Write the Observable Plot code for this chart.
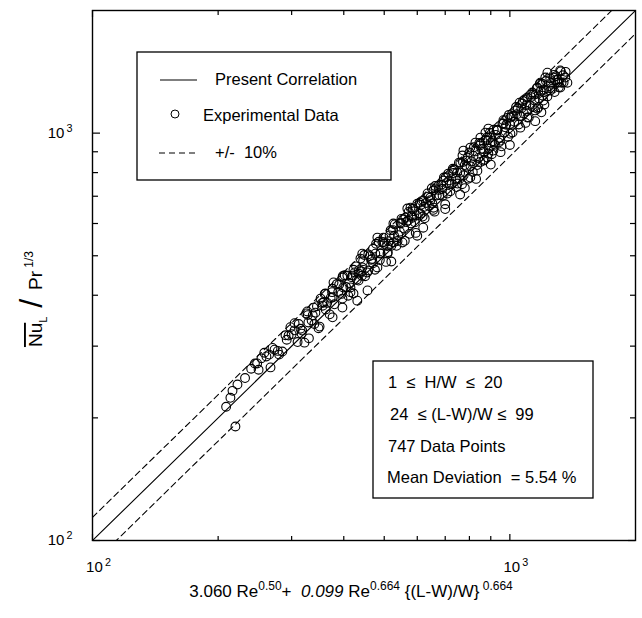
<!DOCTYPE html>
<html><head><meta charset="utf-8">
<script src="https://cdn.jsdelivr.net/npm/d3@7"></script>
<script src="https://cdn.jsdelivr.net/npm/@observablehq/plot@0.6"></script>
<style>
body{margin:0;background:#fff}
svg{font-family:"Liberation Sans",Arial,Helvetica,sans-serif}
</style>
</head><body><div id="chart"></div>
<script>
const expX = [
  209, 214, 216.5, 222.5, 220, 248, 254, 261, 273, 267,
  280, 292, 305, 317, 322, 329, 327, 337, 338.5, 356,
  358, 361.5, 376, 376, 376, 378, 397, 397, 397, 399,
  408, 415, 420, 422, 431, 434, 434, 438.5, 443, 443,
  456, 458, 476, 481.5, 481.5, 489.5, 498, 509, 526, 526,
  547, 553, 562, 568, 578, 584, 600.5, 610.5, 621, 645,
  656, 656, 674, 693, 708.5, 712, 728, 749, 761, 770,
  774, 804, 804, 827, 836, 850, 864, 874, 888, 888,
  850, 898, 913, 883, 933, 949, 965, 1003, 1003, 1031,
  1059.5, 1071, 1101, 1101, 1132, 1164, 1164, 1183, 1203, 1216,
  1230, 1250, 1271, 1300, 1321, 1358, 1373.5,
  300, 310, 335, 345, 350, 365, 380, 385, 405, 410,
  425, 430, 445, 450, 465, 470, 475, 490, 500, 505,
  515, 520, 530, 535, 545, 555, 560, 570, 580, 590,
  595, 605, 615, 625, 630, 640, 650, 660, 668, 685,
  690, 700, 715, 725, 735, 745, 760, 775, 785, 795,
  810, 820, 840, 855, 870, 880, 900, 920, 935, 955,
  970, 985, 1000, 1015, 1040, 1055, 1080, 1090, 1115, 1140,
  1150, 1175, 1195, 1210, 1240, 1265, 1290, 1310, 1340,
  520, 600, 620, 700, 760, 780, 830, 900, 950, 1000, 1150, 1190,
  290, 315, 325, 340, 355, 360, 370, 372, 390, 395,
  402, 415, 418, 428, 440, 448, 455, 462, 470, 485,
  495, 510, 512, 525, 540, 550, 565, 575, 585, 598,
  612, 618, 635, 645, 655, 665, 678, 695, 705, 720,
  732, 742, 755, 768, 780, 792, 805, 815, 828, 845,
  850, 862, 875, 890, 905, 915, 925, 940, 960, 975,
  990, 1010, 1025, 1035, 1050, 1065, 1085, 1100, 1110, 1125,
  1145, 1160, 1170, 1185, 1200, 1220, 1230, 1255, 1275, 1280,
  1300, 1325, 1330, 1345, 1360,
  240, 250, 258, 265, 285, 298, 312, 330, 348,
  232, 245, 270, 278, 295, 305, 318, 328, 342, 352,
  362, 375, 388, 398, 412, 422, 435, 442, 458, 468,
  478, 488, 498, 508, 518, 528, 538, 548, 558, 572,
  582, 592, 608, 622, 638, 652, 662, 675, 688, 702,
  718, 730, 748, 758, 772, 788, 800, 818, 835, 848,
  865, 885, 895, 910, 930, 945, 965, 980, 995, 1020,
  1045, 1060, 1075, 1095, 1120, 1135, 1155, 1180, 1205, 1225,
  1250, 1285, 1305, 1320
];
const expY = [
  213, 224, 233, 241.5, 190.5, 272, 280, 283, 294, 266,
  286, 311, 328, 322, 306, 343, 365, 357, 373, 377,
  384, 404, 395, 353, 415, 430, 442, 392.5, 373, 418,
  447, 418, 447, 404, 388, 452, 434.5, 492, 506, 468,
  411, 460, 506, 468, 554, 506, 554, 506, 539, 600,
  603, 539, 620, 653, 656, 620, 671.5, 634, 683, 695,
  723, 656, 743, 765, 710.5, 795.5, 809, 752, 846.5, 881,
  906, 921.5, 778, 948, 809, 975, 856, 1003, 1026, 891,
  942, 975, 906, 871, 1014, 958.5, 1055, 1092, 997, 1136,
  1031.5, 1182, 1223, 1092, 1258, 1294, 1148.5, 1330, 1202, 1369,
  1407, 1272, 1369, 1330, 1294, 1369, 1330,
  321, 307, 347, 376, 335, 383, 380, 426, 419, 399,
  455, 437, 485, 445.5, 489, 520, 462, 507, 535, 483,
  561, 529, 597, 529, 573, 614, 544, 610, 600, 643,
  569, 636, 681, 618, 674, 662, 732, 641.5, 703, 747,
  702, 669, 765, 750, 814, 737, 799.5, 788, 856, 773,
  852, 923, 869, 915, 860, 974, 947, 936, 1019, 928,
  1004, 1090, 1052, 1004, 1113, 1188, 1118, 1059.5, 1173, 1243,
  1137, 1216, 1323, 1176, 1304, 1286, 1380, 1296, 1387,
  484, 560, 586, 651, 707, 733, 772, 837, 898, 935, 1070, 1125,
  319, 331, 361, 340, 383, 403, 359, 394, 425, 403,
  448, 407, 443, 471, 458, 502, 455, 499, 479, 541,
  540, 510, 543, 578, 562, 616, 605, 566, 652, 628,
  667, 624, 711, 684, 648, 731.5, 705, 778, 754, 720,
  798, 772, 846, 749, 835, 871, 829, 803, 902, 946,
  850, 914, 962.5, 917, 887, 1020, 990, 949, 1056, 1033.5,
  980, 1101, 1066, 1159, 1050, 1150, 1210, 1133, 1093, 1226,
  1202, 1288, 1158, 1268, 1236, 1342, 1230, 1330, 1390, 1261,
  1352, 1418, 1330, 1332, 1414,
  264, 262.5, 289, 286, 291, 334, 340, 313.5, 332,
  250.5, 272, 297, 292, 318.6, 341.6, 327.5, 357.5, 362.5, 392.5,
  369, 407, 407.4, 446, 428.5, 462, 461, 446.4, 504, 491,
  535, 488, 540, 528, 577.6, 559.7, 543.4, 600, 583, 640.6,
  625.7, 604, 675, 659, 698.6, 671.6, 741.4, 725.6, 729, 779,
  750, 817.6, 800, 773, 849, 827, 896, 879, 835, 933,
  899.6, 960, 1002, 955.5, 1018, 973, 1076, 1048.6, 1109, 1101.6,
  1149.5, 1102, 1199, 1171.6, 1243, 1158, 1247, 1321.6, 1277, 1268,
  1362.5, 1349, 1331, 1425.6
];
// Present correlation (y = x) and the +/- band lines
const corrX = [100, 2000];
const corrY = [100, 2000];
const upperY = [114, 2280];
const lowerY = [87.7, 1754];
// Axis ticks
const majorTicks = [100, 1000];
const minorTicks = [200, 300, 400, 500, 600, 700, 800, 900];
const legendLabels = ["Present Correlation", "Experimental Data", "+/-  10%"];
const infoLines = ["1  \u2264  H/W  \u2264  20", "24  \u2264 (L-W)/W \u2264  99", "747 Data Points", "Mean Deviation  = 5.54 %"];

const points = expX.map((x, i) => ({x, y: expY[i]}));
const corr = corrX.map((x, i) => ({x, y: corrY[i], up: upperY[i], lo: lowerY[i]}));
const fmt = d => "10^" + Math.round(Math.log10(d));

const W = 642, H = 618, mT = 10, mL = 92, mR = 7, mB = 78;
const fw = W - mL - mR, fh = H - mT - mB;

const plot = Plot.plot({
  width: W, height: H,
  marginTop: mT, marginLeft: mL, marginRight: mR, marginBottom: mB,
  x: {type: "log", domain: [100, 2000]},
  y: {type: "log", domain: [100, 2000]},
  style: {background: "white", color: "black", fontFamily: '"Liberation Sans",Arial,sans-serif'},
  marks: [
    Plot.line(corr, {x: "x", y: "y", stroke: "black", strokeWidth: 1.1, clip: true}),
    Plot.line(corr, {x: "x", y: "up", stroke: "black", strokeWidth: 1.1, strokeDasharray: "6,4", clip: true}),
    Plot.line(corr, {x: "x", y: "lo", stroke: "black", strokeWidth: 1.1, strokeDasharray: "6,4", clip: true}),
    Plot.dot(points, {x: "x", y: "y", r: 4.4, stroke: "black", strokeWidth: 1.1, fill: "none", clip: true}),
    Plot.frame({stroke: "black", strokeWidth: 1.4}),
    // inward ticks: an axis anchored on the opposite side, shifted across the frame
    Plot.axisX(majorTicks, {anchor: "top", tickSize: 7, dy: fh, fill: "none", label: null, strokeWidth: 1.2}),
    Plot.axisX(minorTicks, {anchor: "top", tickSize: 5, dy: fh, fill: "none", label: null, strokeWidth: 1.2}),
    Plot.axisX(majorTicks, {anchor: "bottom", tickSize: 7, dy: -fh, fill: "none", label: null, strokeWidth: 1.2}),
    Plot.axisX(minorTicks, {anchor: "bottom", tickSize: 5, dy: -fh, fill: "none", label: null, strokeWidth: 1.2}),
    Plot.axisY(majorTicks, {anchor: "right", tickSize: 7, dx: -fw, fill: "none", label: null, strokeWidth: 1.2}),
    Plot.axisY(minorTicks, {anchor: "right", tickSize: 5, dx: -fw, fill: "none", label: null, strokeWidth: 1.2}),
    Plot.axisY(majorTicks, {anchor: "left", tickSize: 7, dx: fw, fill: "none", label: null, strokeWidth: 1.2}),
    Plot.axisY(minorTicks, {anchor: "left", tickSize: 5, dx: fw, fill: "none", label: null, strokeWidth: 1.2}),
    Plot.axisX(majorTicks, {anchor: "bottom", tickSize: 0, tickPadding: 21, dx: 6, tickFormat: fmt, fontSize: 15, label: null}),
    Plot.axisY(majorTicks, {anchor: "left", tickSize: 0, tickPadding: 20, tickFormat: fmt, fontSize: 15, label: null})
  ]
});
document.getElementById("chart").appendChild(plot);

const svg = d3.select(plot);
// superscripts in tick labels
svg.selectAll("text").each(function() {
  const t = d3.select(this);
  if (t.selectAll("tspan").size() > 0) return;
  const m = t.text().match(/^(.*)\^(.*)$/);
  if (!m) return;
  t.text(null);
  t.append("tspan").text(m[1]);
  t.append("tspan").attr("dy", "-0.55em").attr("dx", "0.2em").style("font-size", "72%").text(m[2]);
});

const font = '"Liberation Sans",Arial,sans-serif';
// x-axis title
const xt = svg.append("text").attr("x", 351).attr("y", 597).attr("text-anchor", "middle")
  .attr("font-size", 17).attr("font-family", font).attr("fill", "black").style("white-space", "pre");
xt.append("tspan").text("3.060 Re");
xt.append("tspan").attr("dy", -7).attr("font-size", 12).text("0.50");
xt.append("tspan").attr("dy", 7).text("+  ");
xt.append("tspan").attr("font-style", "italic").text("0.099");
xt.append("tspan").text(" Re");
xt.append("tspan").attr("dy", -7).attr("font-size", 12).text("0.664");
xt.append("tspan").attr("dy", 7).text(" {(L-W)/W}");
xt.append("tspan").attr("dy", -7).attr("font-size", 12).text(" 0.664");

// y-axis title
const yt = svg.append("text").attr("transform", "translate(42,299) rotate(-90)").attr("text-anchor", "middle")
  .attr("font-size", 19).attr("font-family", font).attr("fill", "black").style("white-space", "pre");
yt.append("tspan").style("text-decoration", "overline").text("Nu");
yt.append("tspan").attr("font-size", 11).attr("dy", 5).text("L");
yt.append("tspan").attr("font-size", 32).attr("dy", -5).text(" / ");
yt.append("tspan").text("Pr");
yt.append("tspan").attr("font-size", 12).attr("dy", -9).text(" 1/3");

// legend box
const lg = svg.append("g").attr("font-family", font).attr("font-size", 16.5).attr("fill", "black").attr("text-anchor", "start");
lg.append("rect").attr("x", 137).attr("y", 52).attr("width", 254).attr("height", 128)
  .attr("fill", "white").attr("stroke", "black").attr("stroke-width", 1.3);
lg.append("line").attr("x1", 160).attr("x2", 197).attr("y1", 80).attr("y2", 80).attr("stroke", "black").attr("stroke-width", 1.1);
lg.append("circle").attr("cx", 175).attr("cy", 114).attr("r", 4).attr("fill", "none").attr("stroke", "black");
lg.append("line").attr("x1", 159).attr("x2", 195).attr("y1", 153).attr("y2", 153).attr("stroke", "black").attr("stroke-width", 1.1).attr("stroke-dasharray", "6,4");
const lx = [215, 203, 215], ly = [79, 115, 152];
legendLabels.forEach((s, i) => lg.append("text").attr("x", lx[i]).attr("y", ly[i]).attr("dy", "0.35em").style("white-space", "pre").text(s));

// info box
const ib = svg.append("g").attr("font-family", font).attr("font-size", 16.5).attr("fill", "black").attr("text-anchor", "start");
ib.append("rect").attr("x", 373).attr("y", 361).attr("width", 220).attr("height", 137)
  .attr("fill", "white").attr("stroke", "black").attr("stroke-width", 1.3);
const ix = [388, 390, 388, 387], iy = [382, 414, 446, 477];
infoLines.forEach((s, i) => ib.append("text").attr("x", ix[i]).attr("y", iy[i]).attr("dy", "0.35em").style("white-space", "pre").text(s));
</script>
</body></html>
